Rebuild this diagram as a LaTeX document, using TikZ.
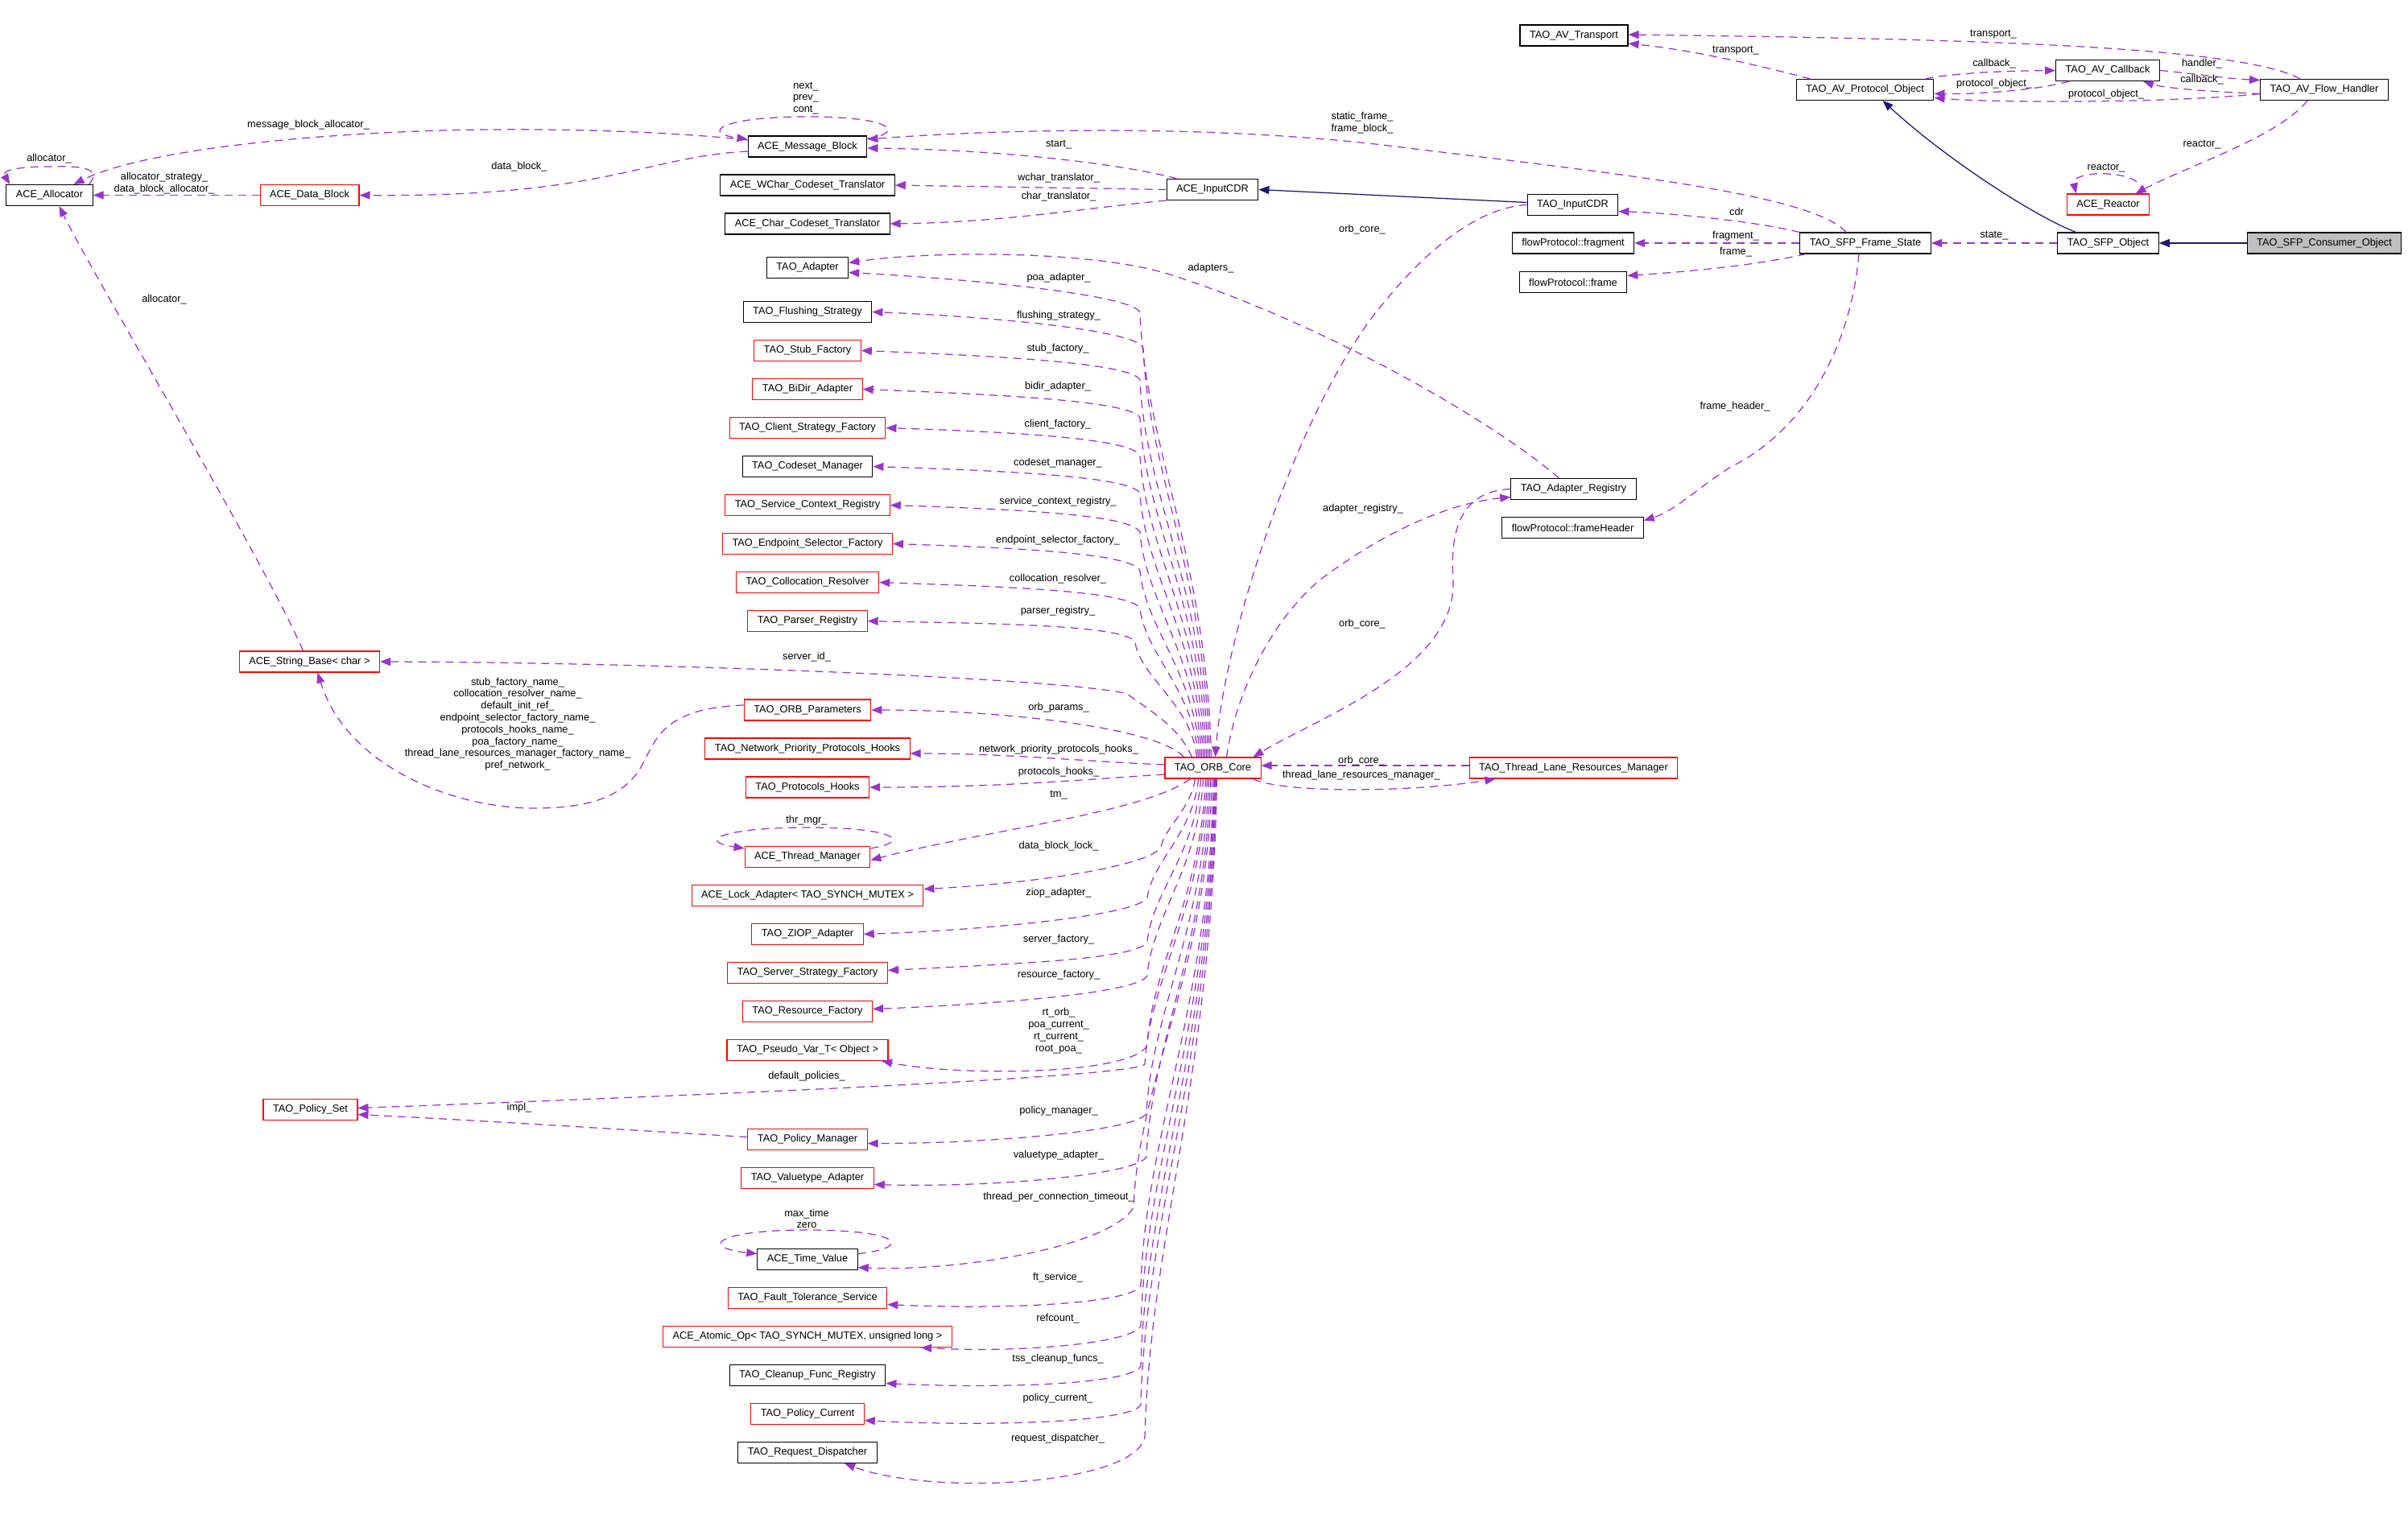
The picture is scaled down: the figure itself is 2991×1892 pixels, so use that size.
\documentclass[tikz,border=0pt]{standalone}
\usepackage{fontspec}
\setmainfont{Liberation Sans}
\usetikzlibrary{arrows.meta}
\definecolor{edgec}{HTML}{9A32CD}
\definecolor{inhc}{HTML}{191970}
\definecolor{grayfill}{HTML}{BFBFBF}
\newcommand\dxfont{\fontsize{12.8}{14.8}\selectfont}
\newcommand\upfan[5]{%
  \draw[rel] ([xshift=#1pt]orb.north) .. controls +(-6,{-0.45*(941-#3)}) and +(6,{0.3*(941-#3)}) .. (#2,#3) .. controls +(-10,-22) and +(150,#5) .. (#4);}
\newcommand\downfan[5]{%
  \draw[rel] ([xshift=#1pt]orb.south) .. controls +(-6,{0.45*(#3-967)}) and +(6,{-0.3*(#3-967)}) .. (#2,#3) .. controls +(-10,22) and +(150,#5) .. (#4);}
\begin{document}
\begin{tikzpicture}[x=1pt,y=-1pt,
  cls/.style={draw=black, line width=1.1pt, inner xsep=12pt, inner ysep=0pt, minimum height=26pt, font=\dxfont},
  redcls/.style={cls, draw=red},
  lab/.style={font=\dxfont, inner sep=0pt, align=center},
  rel/.style={draw=edgec, line width=1.25pt, dash pattern=on 10pt off 7pt, -{Triangle[length=13pt,width=10pt]}},
  inh/.style={draw=inhc, line width=1.25pt, -{Triangle[length=13pt,width=10pt]}}]
\useasboundingbox (0,0) rectangle (2991,1892);

% ---------- nodes ----------
\node[cls] (al) at (61.5,242.5) {ACE\_Allocator};
\node[redcls] (db) at (384.5,242.5) {ACE\_Data\_Block};
\node[redcls] (sb) at (384.5,822) {ACE\_String\_Base< char >};
\node[redcls] (ps) at (385.5,1378.5) {TAO\_Policy\_Set};

\node[cls] (mb) at (1003,182) {ACE\_Message\_Block};
\node[cls] (wc) at (1003,230) {ACE\_WChar\_Codeset\_Translator};
\node[cls] (cc) at (1003,278) {ACE\_Char\_Codeset\_Translator};
\node[cls] (ad) at (1003,332.5) {TAO\_Adapter};
\node[cls] (fl) at (1003,387.5) {TAO\_Flushing\_Strategy};
\node[redcls] (st) at (1003,435.5) {TAO\_Stub\_Factory};
\node[redcls] (bd) at (1003,483.5) {TAO\_BiDir\_Adapter};
\node[redcls] (csf) at (1003,531.5) {TAO\_Client\_Strategy\_Factory};
\node[cls] (cm) at (1003,579.5) {TAO\_Codeset\_Manager};
\node[redcls] (scr) at (1003,627.5) {TAO\_Service\_Context\_Registry};
\node[redcls] (esf) at (1003,675.5) {TAO\_Endpoint\_Selector\_Factory};
\node[redcls] (cr) at (1003,723.5) {TAO\_Collocation\_Resolver};
\node[redcls] (pr) at (1003,771.5) {TAO\_Parser\_Registry};
\node[redcls] (op) at (1003,882) {TAO\_ORB\_Parameters};
\node[redcls] (np) at (1003,930) {TAO\_Network\_Priority\_Protocols\_Hooks};
\node[redcls] (ph) at (1003,978) {TAO\_Protocols\_Hooks};
\node[redcls] (tm) at (1003,1064.5) {ACE\_Thread\_Manager};
\node[redcls] (la) at (1003,1112.5) {ACE\_Lock\_Adapter< TAO\_SYNCH\_MUTEX >};
\node[redcls] (zi) at (1003,1160.5) {TAO\_ZIOP\_Adapter};
\node[redcls] (ss) at (1003,1208.5) {TAO\_Server\_Strategy\_Factory};
\node[redcls] (rf) at (1003,1256.5) {TAO\_Resource\_Factory};
\node[redcls] (pv) at (1003,1304.5) {TAO\_Pseudo\_Var\_T< Object >};
\node[redcls] (pm) at (1003,1415.5) {TAO\_Policy\_Manager};
\node[redcls] (va) at (1003,1463.5) {TAO\_Valuetype\_Adapter};
\node[cls] (tv) at (1003,1564.5) {ACE\_Time\_Value};
\node[redcls] (ft) at (1003,1612.5) {TAO\_Fault\_Tolerance\_Service};
\node[redcls] (ao) at (1003,1660.5) {ACE\_Atomic\_Op< TAO\_SYNCH\_MUTEX, unsigned long >};
\node[cls] (cl) at (1003,1708.5) {TAO\_Cleanup\_Func\_Registry};
\node[redcls] (pc) at (1003,1756.5) {TAO\_Policy\_Current};
\node[cls] (rd) at (1003,1804.5) {TAO\_Request\_Dispatcher};

\node[cls] (icdr) at (1506,235.5) {ACE\_InputCDR};
\node[redcls] (orb) at (1506.5,954) {TAO\_ORB\_Core};
\node[cls] (tic) at (1953.5,254.5) {TAO\_InputCDR};
\node[cls] (frag) at (1954,302) {flowProtocol::fragment};
\node[cls] (frm) at (1954,350.5) {flowProtocol::frame};
\node[cls] (tr) at (1955,44) {TAO\_AV\_Transport};
\node[cls] (ar) at (1954.5,607.5) {TAO\_Adapter\_Registry};
\node[cls] (fh) at (1953.5,655.5) {flowProtocol::frameHeader};
\node[redcls] (tl) at (1954.5,954) {TAO\_Thread\_Lane\_Resources\_Manager};
\node[cls] (apo) at (2316.5,111.5) {TAO\_AV\_Protocol\_Object};
\node[cls] (fs) at (2317,302) {TAO\_SFP\_Frame\_State};
\node[cls] (cb) at (2618,87.5) {TAO\_AV\_Callback};
\node[redcls] (re) at (2618.5,254) {ACE\_Reactor};
\node[cls] (so) at (2618.5,302) {TAO\_SFP\_Object};
\node[cls] (flh) at (2887,111.5) {TAO\_AV\_Flow\_Handler};
\node[cls, fill=grayfill] (cons) at (2887,302) {TAO\_SFP\_Consumer\_Object};

% ---------- left cluster ----------
\draw[rel] ([xshift=-5pt]al.north east) .. controls (128,208) and (100,206) .. (61,207) .. controls (20,207) and (2,212) .. ([xshift=5pt]al.north west);
\draw[rel] ([yshift=8pt]mb.west) .. controls (850,165) and (700,158) .. (550,162) .. controls (350,168) and (170,190) .. ([xshift=30pt]al.north);
\draw[rel] ([yshift=-6pt]mb.west) .. controls (800,195) and (750,245) .. (db.east);
\draw[rel] (db.west) -- (al.east);
\draw[rel] ([xshift=-8pt]sb.north) .. controls (330,700) and (120,350) .. ([xshift=12pt]al.south);
\draw[rel] ([yshift=10pt]mb.east) .. controls (1125,165) and (1110,145) .. (1003,145) .. controls (895,145) and (870,165) .. ([yshift=9pt]mb.west);

% ---------- ACE_InputCDR ----------
\draw[rel] ([xshift=-44pt]icdr.north) .. controls (1400,205) and (1250,186) .. ([yshift=-2pt]mb.east);
\draw[rel] (icdr.west) -- (wc.east);
\draw[rel] (icdr.south west) .. controls (1350,258) and (1250,276) .. (cc.east);
\draw[inh] ([yshift=3pt]tic.west) -- (icdr.east);

% ---------- SFP ----------
\draw[rel] ([xshift=-24pt]fs.north) .. controls (2250,240) and (2000,215) .. (1717,180) .. controls (1500,155) and (1250,160) .. ([yshift=9pt]mb.east);
\draw[inh] (cons.west) -- (so.east);
\draw[inh] ([xshift=-40pt]so.north) .. controls (2530,270) and (2420,200) .. ([xshift=22pt]apo.south);
\draw[rel] (so.west) -- (fs.east);
\draw[rel] (fs.north west) .. controls (2180,275) and (2080,265) .. ([yshift=-8pt]tic.east);
\draw[rel] (fs.west) -- (frag.east);
\draw[rel] ([xshift=8pt]fs.south west) .. controls (2180,330) and (2090,338) .. ([yshift=8pt]frm.east);
\draw[rel] ([xshift=-8pt]fs.south) .. controls (2300,420) and (2250,530) .. (2150,580) .. controls (2110,605) and (2080,635) .. ([yshift=9pt]fh.east);

% ---------- AV ----------
\draw[rel] ([xshift=-30pt]flh.north) .. controls (2780,55) and (2400,48) .. ([yshift=1pt]tr.east);
\draw[rel] ([xshift=-68pt]apo.north) .. controls (2180,80) and (2100,62) .. ([yshift=-10pt]tr.east);
\draw[rel] ([xshift=75pt]apo.north) .. controls (2430,90) and (2500,88) .. (cb.west);
\draw[rel] ([xshift=-48pt]cb.south) .. controls (2530,112) and (2460,117) .. ([yshift=-5pt]apo.east);
\draw[rel] (cb.east) .. controls (2730,92) and (2770,98) .. ([yshift=12pt]flh.west);
\draw[rel] ([yshift=-5pt]flh.west) .. controls (2750,114) and (2690,110) .. ([xshift=44pt]cb.south);
\draw[rel] ([yshift=-5pt]flh.west) .. controls (2700,128) and (2480,128) .. ([yshift=-10pt]apo.east);
\draw[rel] ([xshift=-21pt]flh.south) .. controls (2830,170) and (2720,205) .. ([xshift=34pt]re.north);
\draw[rel] ([xshift=-10pt]re.north east) .. controls (2668,210) and (2572,210) .. ([xshift=12pt]re.north west);

% ---------- ORB core, upper fan ----------
\upfan{-2}{1416}{388}{[yshift=-6pt]ad.east}{8}
\upfan{-4}{1420}{432}{fl.east}{6}
\upfan{-6}{1416}{472}{st.east}{6}
\upfan{-8}{1416}{519}{bd.east}{6}
\upfan{-10}{1416}{566}{csf.east}{5}
\upfan{-12}{1416}{613}{cm.east}{5}
\upfan{-14}{1416}{661}{scr.east}{5}
\upfan{-16}{1416}{709}{esf.east}{5}
\upfan{-18}{1416}{756}{cr.east}{5}
\upfan{-20}{1410}{798}{pr.east}{3}
\draw[rel] ([xshift=-26pt]orb.north) .. controls +(-15,-35) and +(35,25) .. (1400,862) .. controls (1330,843) and (824,823) .. (sb.east);
\draw[rel] ([xshift=-36pt]orb.north) .. controls (1440,905) and (1250,882) .. (op.east);
\draw[rel] ([yshift=4pt]orb.west) .. controls (1350,946) and (1250,936) .. ([yshift=-6pt]np.east);
\draw[rel] ([yshift=-8pt]orb.west) .. controls (1350,968) and (1250,978) .. (ph.east);
\draw[rel] ([yshift=6pt]op.west) .. controls (820,880) and (815,920) .. (795,955) .. controls (770,995) and (720,1004) .. (663,1004) .. controls (560,1004) and (430,950) .. ([xshift=10pt]sb.south);

% ---------- ORB core, lower fan ----------
\draw[rel] ([xshift=-28pt]orb.south) .. controls (1420,1010) and (1230,1030) .. ([yshift=-4pt]tm.east);
\draw[rel] ([yshift=-3pt]tm.north east) .. controls (1135,1045) and (1110,1028) .. (1003,1028) .. controls (896,1028) and (865,1045) .. ([yshift=-3pt]tm.north west);
\downfan{-22}{1442}{1052}{[yshift=8pt]la.east}{-8}
\downfan{-18}{1425}{1115}{zi.east}{-5}
\downfan{-15}{1425}{1170}{[yshift=3pt]ss.east}{-8}
\downfan{-12}{1425}{1212}{[yshift=3pt]rf.east}{-6}
\draw[rel] ([xshift=-9pt]orb.south) .. controls +(-6,149) and +(6,-99) .. (1425,1298) .. controls (1410,1335) and (1195,1338) .. ([xshift=92pt]pv.south);
\draw[rel] ([xshift=-7pt]orb.south) .. controls +(-6,160) and +(6,-106) .. (1422,1322) .. controls (1412,1337) and (944,1358) .. ([yshift=2pt]ps.east);
\downfan{-5}{1424}{1383}{[yshift=-5pt]pm.east}{0}
\draw[rel] ([yshift=3pt]pm.west) .. controls (800,1405) and (600,1392) .. ([yshift=-6pt]ps.east);
\downfan{-3}{1424}{1437}{[yshift=-8pt]va.east}{4}
\draw[rel] ([xshift=-1pt]orb.south) .. controls +(-6,240) and +(6,-160) .. (1408,1500) .. controls (1378,1550) and (1187,1580) .. ([yshift=-10pt]tv.east);
\draw[rel] ([yshift=7pt]tv.east) .. controls (1135,1550) and (1120,1528) .. (1003,1528) .. controls (886,1528) and (870,1550) .. ([yshift=7pt]tv.west);
\downfan{1}{1417}{1597}{[yshift=-8pt]ft.east}{7}
\draw[rel] ([xshift=2pt]orb.south) .. controls +(-6,306) and +(6,-204) .. (1417,1647) .. controls (1407,1669) and (1264,1681) .. ([xshift=141pt]ao.south);
\downfan{3}{1417}{1697}{[yshift=-10pt]cl.east}{7}
\downfan{4}{1417}{1745}{[yshift=-8pt]pc.east}{8}
\draw[rel] ([xshift=5pt]orb.south) .. controls +(-6,368) and +(6,-245) .. (1422,1785) .. controls (1410,1845) and (1159,1859) .. ([xshift=46pt]rd.south);

% ---------- ORB core, right side ----------
\draw[rel] (tic.west) .. controls (1830,258) and (1760,320) .. (1700,400) .. controls (1600,540) and (1520,800) .. ([xshift=3pt]orb.north);
\draw[rel] (ar.west) .. controls (1820,610) and (1800,650) .. (1805,720) .. controls (1810,830) and (1640,890) .. ([xshift=50pt]orb.north);
\draw[rel] ([xshift=17pt]orb.north) .. controls (1535,860) and (1580,770) .. (1640,720) .. controls (1720,660) and (1800,625) .. ([yshift=-10pt]ar.west);
\draw[rel] ([xshift=-18pt]ar.north) .. controls (1850,520) and (1640,400) .. (1450,340) .. controls (1350,310) and (1150,312) .. ([yshift=6pt]ad.east);
\draw[rel] ([yshift=3pt]tl.west) -- ([yshift=3pt]orb.east);
\draw[rel] ([xshift=50pt]orb.south) .. controls (1590,985) and (1750,985) .. ([xshift=-97pt]tl.south);

% ---------- labels ----------
\node[lab] at (61,197) {allocator\_};
\node[lab] at (383,155) {message\_block\_allocator\_};
\node[lab] at (645,207) {data\_block\_};
\node[lab] at (204,227.5) {allocator\_strategy\_\\data\_block\_allocator\_};
\node[lab] at (204,372) {allocator\_};
\node[lab] at (1001,122) {next\_\\prev\_\\cont\_};
\node[lab] at (1692,152.5) {static\_frame\_\\frame\_block\_};
\node[lab] at (1315,180) {start\_};
\node[lab] at (1315,221) {wchar\_translator\_};
\node[lab] at (1315,244) {char\_translator\_};
\node[lab] at (1692,285) {orb\_core\_};
\node[lab] at (1504,333) {adapters\_};
\node[lab] at (1315,345) {poa\_adapter\_};
\node[lab] at (1315,392) {flushing\_strategy\_};
\node[lab] at (1314,433) {stub\_factory\_};
\node[lab] at (1314,480) {bidir\_adapter\_};
\node[lab] at (1314,527) {client\_factory\_};
\node[lab] at (1314,575) {codeset\_manager\_};
\node[lab] at (1314,623) {service\_context\_registry\_};
\node[lab] at (1314,671) {endpoint\_selector\_factory\_};
\node[lab] at (1314,719) {collocation\_resolver\_};
\node[lab] at (1314,759) {parser\_registry\_};
\node[lab] at (1693,632) {adapter\_registry\_};
\node[lab] at (1692,775) {orb\_core\_};
\node[lab] at (2155,505) {frame\_header\_};
\node[lab] at (1002,816) {server\_id\_};
\node[lab] at (643,899.5) {stub\_factory\_name\_\\collocation\_resolver\_name\_\\default\_init\_ref\_\\endpoint\_selector\_factory\_name\_\\protocols\_hooks\_name\_\\poa\_factory\_name\_\\thread\_lane\_resources\_manager\_factory\_name\_\\pref\_network\_};
\node[lab] at (1315,879) {orb\_params\_};
\node[lab] at (1315,931) {network\_priority\_protocols\_hooks\_};
\node[lab] at (1315,959) {protocols\_hooks\_};
\node[lab] at (1315,988) {tm\_};
\node[lab] at (1002,1019) {thr\_mgr\_};
\node[lab] at (1315,1051) {data\_block\_lock\_};
\node[lab] at (1315,1109) {ziop\_adapter\_};
\node[lab] at (1315,1167) {server\_factory\_};
\node[lab] at (1315,1211) {resource\_factory\_};
\node[lab] at (1315,1280.5) {rt\_orb\_\\poa\_current\_\\rt\_current\_\\root\_poa\_};
\node[lab] at (1002,1337) {default\_policies\_};
\node[lab] at (645,1376) {impl\_};
\node[lab] at (1315,1380) {policy\_manager\_};
\node[lab] at (1315,1435) {valuetype\_adapter\_};
\node[lab] at (1315,1487) {thread\_per\_connection\_timeout\_};
\node[lab] at (1002,1514) {max\_time\\zero};
\node[lab] at (1314,1587) {ft\_service\_};
\node[lab] at (1314,1638) {refcount\_};
\node[lab] at (1314,1688) {tss\_cleanup\_funcs\_};
\node[lab] at (1314,1737) {policy\_current\_};
\node[lab] at (1314,1787) {request\_dispatcher\_};
\node[lab] at (1691,945) {orb\_core\_};
\node[lab] at (1691,963) {thread\_lane\_resources\_manager\_};
\node[lab] at (2476,43) {transport\_};
\node[lab] at (2156,63) {transport\_};
\node[lab] at (2477,79) {callback\_};
\node[lab] at (2477,104) {protocol\_object\_};
\node[lab] at (2735,79) {handler\_};
\node[lab] at (2735,99) {callback\_};
\node[lab] at (2616,117) {protocol\_object\_};
\node[lab] at (2735,180) {reactor\_};
\node[lab] at (2616,209) {reactor\_};
\node[lab] at (2157,263) {cdr};
\node[lab] at (2156,293) {fragment\_};
\node[lab] at (2156,313) {frame\_};
\node[lab] at (2477,293) {state\_};
\end{tikzpicture}
\end{document}
